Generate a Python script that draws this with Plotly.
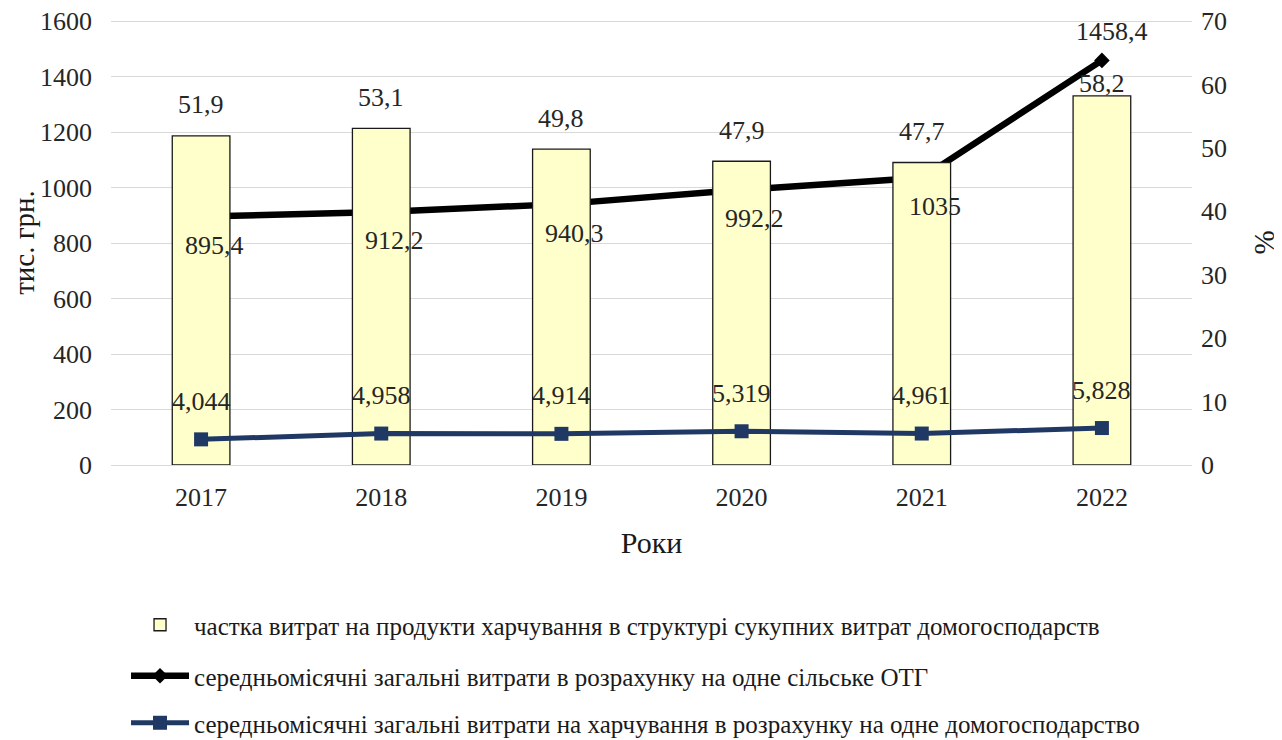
import plotly.graph_objects as go

years = ["2017", "2018", "2019", "2020", "2021", "2022"]
food_share = [51.9, 53.1, 49.8, 47.9, 47.7, 58.2]
otg_expenses = [895.4, 912.2, 940.3, 992.2, 1035, 1458.4]
household_food = [4.044, 4.958, 4.914, 5.319, 4.961, 5.828]

name_bar = "частка витрат на продукти харчування в структурі сукупних витрат домогосподарств"
name_black = "середньомісячні загальні витрати в розрахунку на одне сільське ОТГ"
name_blue = "середньомісячні загальні витрати на харчування в розрахунку на одне домогосподарство"

FONT = "Liberation Serif, Times New Roman, serif"
FS = 26
TXT = "#262626"

def fmt(v, dec):
    return f"{v:.{dec}f}".replace(".", ",")

x_idx = list(range(len(years)))
last = len(years) - 1

fig = go.Figure()
fig.add_trace(go.Bar(
    x=x_idx, y=food_share, name=name_bar, yaxis="y2",
    marker=dict(color="#FFFFCC", line=dict(color="#1a1a1a", width=1.3)),
    width=0.32, legend="legend",
))
fig.add_trace(go.Scatter(
    x=x_idx, y=otg_expenses, name=name_black, yaxis="y",
    mode="lines+markers", line=dict(color="black", width=6.5),
    marker=dict(symbol="diamond", size=12, color="black"), legend="legend2",
))
fig.add_trace(go.Scatter(
    x=x_idx, y=household_food, name=name_blue, yaxis="y2",
    mode="lines+markers", line=dict(color="#203864", width=5),
    marker=dict(symbol="square", size=14, color="#203864"), legend="legend3",
))

ann = []
for i, (x, v) in enumerate(zip(x_idx, food_share)):
    ann.append(dict(x=x, y=v, xref="x", yref="y2", text=fmt(v, 1), showarrow=False,
                    yshift=12 if i == last else 31,
                    font=dict(size=FS, color=TXT, family=FONT)))
for i, (x, v) in enumerate(zip(x_idx, otg_expenses)):
    txt = fmt(v, 1) if v != int(v) else str(int(v))
    ann.append(dict(x=x, y=v, xref="x", yref="y", text=txt, showarrow=False,
                    yshift=29 if i == last else -29, xshift=10 if i == last else 13,
                    font=dict(size=FS, color=TXT, family=FONT)))
for x, v in zip(x_idx, household_food):
    ann.append(dict(x=x, y=v, xref="x", yref="y2", text=fmt(v, 3), showarrow=False, yshift=38,
                    font=dict(size=FS, color=TXT, family=FONT)))

leg_common = dict(x=0.0139, xanchor="left", yanchor="middle", orientation="v",
                  font=dict(size=25, color="#1a1a1a", family=FONT),
                  bgcolor="rgba(0,0,0,0)", itemwidth=58)

fig.update_layout(
    width=1274, height=732,
    margin=dict(l=103, r=90, t=12, b=275, autoexpand=False),
    paper_bgcolor="white", plot_bgcolor="white",
    font=dict(family=FONT, size=FS, color=TXT),
    showlegend=True,
    annotations=ann,
    xaxis=dict(
        type="linear", range=[-0.5, len(years) - 0.5],
        tickmode="array", tickvals=x_idx, ticktext=years,
        title=dict(text="Роки", font=dict(size=30, color="#1a1a1a"), standoff=20),
        tickfont=dict(size=FS), showline=False, ticks="", showgrid=False,
        zeroline=False, automargin=False, ticklabelstandoff=14,
    ),
    yaxis=dict(
        title=dict(text="тис. грн.", font=dict(size=29, color="#1a1a1a"), standoff=15),
        range=[0, 1604], tickmode="array", tickvals=list(range(0, 1601, 200)),
        tickfont=dict(size=FS),
        showgrid=True, gridcolor="#d9d9d9", gridwidth=1.3, zeroline=True,
        zerolinecolor="#d9d9d9", zerolinewidth=1.3, ticks="",
        automargin=False, ticklabelstandoff=18, ticklabeloverflow="allow",
    ),
    yaxis2=dict(
        title=dict(text="%", font=dict(size=29, color="#1a1a1a"), standoff=27),
        range=[0, 70 * 1604 / 1600], tickmode="array", tickvals=list(range(0, 71, 10)),
        overlaying="y", side="right",
        tickfont=dict(size=FS), showgrid=False, zeroline=False, ticks="",
        automargin=False, ticklabelstandoff=8, ticklabeloverflow="allow",
    ),
    legend=dict(y=-0.3596, **leg_common),
    legend2=dict(y=-0.4742, **leg_common),
    legend3=dict(y=-0.5798, **leg_common),
)

fig.write_html("out.html")
